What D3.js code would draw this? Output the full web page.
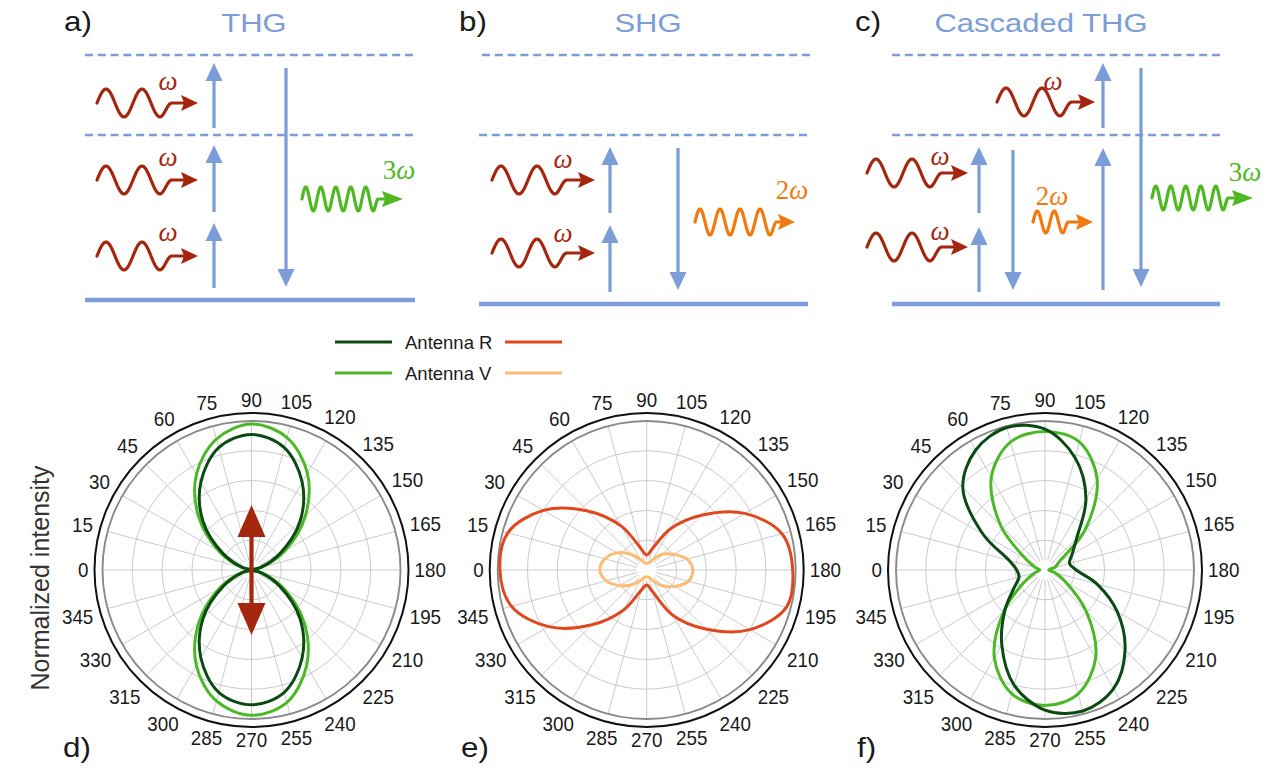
<!DOCTYPE html>
<html>
<head>
<meta charset="utf-8">
<script src="https://cdn.jsdelivr.net/npm/d3@7"></script>
<style>
  body { margin: 0; background: #fff; }
  svg { display: block; }
</style>
</head>
<body>
<svg id="fig" width="1271" height="768"></svg>
<script>
// ---- Polarisation angles (deg) and the tick labels around each polar plot ----
const angles = [0, 15, 30, 45, 60, 75, 90, 105, 120, 135, 150, 165,
                180, 195, 210, 225, 240, 255, 270, 285, 300, 315, 330, 345];
const tickLabels = ["0", "15", "30", "45", "60", "75", "90", "105", "120", "135", "150", "165",
                    "180", "195", "210", "225", "240", "255", "270", "285", "300", "315", "330", "345"];
const ringValues = [0.2, 0.4, 0.6, 0.8];

// ---- Normalized intensity vs. angle ----
// d) THG
const thgAntennaR = [0, 0.06, 0.22, 0.46, 0.68, 0.85, 0.91, 0.85, 0.68, 0.46, 0.22, 0.06,
                     0, 0.06, 0.22, 0.46, 0.68, 0.85, 0.905, 0.85, 0.68, 0.46, 0.22, 0.06];
const thgAntennaV = [0, 0.07, 0.25, 0.50, 0.74, 0.91, 0.98, 0.92, 0.75, 0.51, 0.26, 0.07,
                     0, 0.07, 0.25, 0.50, 0.74, 0.92, 0.975, 0.91, 0.74, 0.50, 0.25, 0.07];
// e) SHG
const shgAntennaR = [0.985, 0.965, 0.80, 0.56, 0.34, 0.15, 0.10, 0.15, 0.32, 0.52, 0.76, 0.94,
                     0.98, 0.97, 0.80, 0.56, 0.35, 0.15, 0.10, 0.14, 0.31, 0.52, 0.76, 0.94];
const shgAntennaV = [0.315, 0.29, 0.23, 0.15, 0.08, 0.05, 0.045, 0.05, 0.08, 0.15, 0.21, 0.28,
                     0.31, 0.29, 0.22, 0.15, 0.08, 0.05, 0.045, 0.05, 0.08, 0.14, 0.21, 0.28];
// f) cascaded THG
const cthgAntennaR = [0.19, 0.25, 0.48, 0.78, 0.93, 0.99, 0.945, 0.78, 0.55, 0.30, 0.21, 0.17,
                      0.21, 0.36, 0.56, 0.76, 0.92, 0.98, 0.94, 0.80, 0.58, 0.38, 0.24, 0.18];
const cthgAntennaV = [0.035, 0.07, 0.15, 0.42, 0.72, 0.89, 0.93, 0.89, 0.70, 0.38, 0.11, 0.07,
                      0.025, 0.07, 0.16, 0.39, 0.68, 0.86, 0.91, 0.86, 0.68, 0.39, 0.16, 0.07];

const seriesNames = ["Antenna R", "Antenna V"];
const panelTitles = ["THG", "SHG", "Cascaded THG"];
const topLetters = ["a)", "b)", "c)"];
const bottomLetters = ["d)", "e)", "f)"];

// ---- Colours ----
const C = {
  levels: "#7d9dd8",
  pump: "#a5260f",
  thg: "#4fb823",
  shg: "#f07a10",
  darkGreen: "#0c4a13",
  lightGreen: "#4cb727",
  red: "#e0471c",
  lightOrange: "#fbbd73",
  text: "#1a1a1a"
};
const SANS = "'Liberation Sans', Arial, sans-serif";
const SERIF = "'Liberation Serif', 'DejaVu Serif', serif";

const svg = d3.select("#fig");

// horizontally widened sans text
function wideText(x, y, str, size, anchor, sx, color) {
  return svg.append("text")
    .attr("transform", `translate(${x},${y}) scale(${sx},1)`)
    .attr("text-anchor", anchor)
    .attr("font-family", SANS).attr("font-size", size).attr("fill", color)
    .text(str);
}

// =====================================================================
// Energy-level diagrams (a–c)
// =====================================================================
function levelLine(x1, x2, y, dashed) {
  svg.append("line").attr("x1", x1).attr("x2", x2).attr("y1", y).attr("y2", y)
    .attr("stroke", C.levels)
    .attr("stroke-width", dashed ? 2.4 : 4.6)
    .attr("stroke-dasharray", dashed ? "8,4.8" : null);
}

function transition(x, yFrom, yTip) {
  const head = 18, hw = 8.5, dir = yTip < yFrom ? -1 : 1;
  const base = yTip - dir * head;
  svg.append("line").attr("x1", x).attr("x2", x).attr("y1", yFrom).attr("y2", base)
    .attr("stroke", C.levels).attr("stroke-width", 3.2);
  svg.append("path")
    .attr("d", `M${x},${yTip} L${x + hw},${base} L${x - hw},${base} Z`)
    .attr("fill", C.levels);
}

// wavy photon with arrowhead
function photon(o) {
  const pts = [];
  const total = o.periods - 0.25;
  const n = Math.ceil(total * 28);
  for (let k = 0; k <= n; k++) {
    const ph = total * k / n;
    pts.push([o.x0 + ph * o.period, o.y - o.amp * Math.sin(2 * Math.PI * ph)]);
  }
  const xe = o.x0 + total * o.period;
  const ease = o.period * 0.32;
  for (let k = 1; k <= 10; k++) {
    const s = k / 10;
    pts.push([xe + s * ease, o.y + o.amp * (1 - (3 * s * s - 2 * s * s * s))]);
  }
  pts.push([o.tip - o.head + 2, o.y]);
  svg.append("path")
    .attr("d", d3.line()(pts))
    .attr("fill", "none").attr("stroke", o.color)
    .attr("stroke-width", 3.2).attr("stroke-linejoin", "round").attr("stroke-linecap", "round");
  svg.append("path")
    .attr("d", `M${o.tip},${o.y} L${o.tip - o.head},${o.y - o.hw} L${o.tip - o.head + 3},${o.y} L${o.tip - o.head},${o.y + o.hw} Z`)
    .attr("fill", o.color);
}

function omegaLabel(x, yc, prefix, color) {
  const t = svg.append("text").attr("x", x).attr("y", yc + 7)
    .attr("text-anchor", "middle").attr("fill", color)
    .attr("font-family", SERIF).attr("font-size", 27);
  if (prefix) t.append("tspan").text(prefix);
  t.append("tspan").attr("font-style", "italic").text("ω");
}

function pump(x0, y, tip) {
  photon({ x0, y, tip, period: 36, periods: 2, amp: 14, head: 17, hw: 8, color: C.pump });
}

// titles and panel letters
const titleX = [254, 648, 1041];
const letterX = [64, 459, 855];
panelTitles.forEach((t, i) => {
  wideText(titleX[i], 32, t, 26.5, "middle", 1.17, C.levels);
  wideText(letterX[i], 31, topLetters[i], 28, "start", 1.12, C.text);
});

// a) THG
levelLine(85, 415, 55, true);
levelLine(85, 415, 135, true);
levelLine(85, 415, 300, false);
transition(214, 288, 223);
transition(214, 212, 145);
transition(214, 128, 63);
transition(286, 68, 287);
pump(97, 103, 198); omegaLabel(168, 83, "", C.pump);
pump(97, 180, 198); omegaLabel(168, 159, "", C.pump);
pump(97, 256, 198); omegaLabel(168, 234, "", C.pump);
photon({ x0: 302, y: 199, tip: 403, period: 15, periods: 5, amp: 12, head: 21, hw: 8, color: C.thg });
omegaLabel(399, 172, "3", C.thg);

// b) SHG
levelLine(482, 810, 55, true);
levelLine(479, 810, 135, true);
levelLine(479, 808, 304, false);
transition(610, 292, 225);
transition(610, 213, 147);
transition(678, 148, 290);
pump(492, 180, 595); omegaLabel(563, 161, "", C.pump);
pump(492, 253, 595); omegaLabel(563, 235, "", C.pump);
photon({ x0: 695, y: 222, tip: 795, period: 20, periods: 4, amp: 13, head: 17, hw: 8, color: C.shg });
omegaLabel(792, 192, "2", C.shg);

// c) cascaded THG
levelLine(892, 1220, 55, true);
levelLine(892, 1220, 135, true);
levelLine(892, 1220, 304, false);
transition(979, 292, 227);
transition(979, 213, 147);
transition(1013, 150, 290);
transition(1103, 290, 148);
transition(1103, 128, 63);
transition(1141, 68, 287);
pump(997, 102, 1095); omegaLabel(1053, 83, "", C.pump);
pump(867, 173, 968); omegaLabel(940, 158, "", C.pump);
pump(867, 247, 968); omegaLabel(940, 233, "", C.pump);
photon({ x0: 1033, y: 222, tip: 1093, period: 17, periods: 2, amp: 11, head: 17, hw: 8, color: C.shg });
omegaLabel(1052, 198, "2", C.shg);
photon({ x0: 1152, y: 198, tip: 1253, period: 15, periods: 5, amp: 12, head: 21, hw: 8, color: C.thg });
omegaLabel(1245, 174, "3", C.thg);

// =====================================================================
// Legend
// =====================================================================
const legendRows = [
  { name: seriesNames[0], left: C.darkGreen, right: C.red, y: 342 },
  { name: seriesNames[1], left: C.lightGreen, right: C.lightOrange, y: 373 }
];
legendRows.forEach(row => {
  svg.append("line").attr("x1", 335).attr("x2", 392).attr("y1", row.y).attr("y2", row.y)
    .attr("stroke", row.left).attr("stroke-width", 3);
  svg.append("line").attr("x1", 505).attr("x2", 562).attr("y1", row.y).attr("y2", row.y)
    .attr("stroke", row.right).attr("stroke-width", 3);
  svg.append("text").attr("x", 405).attr("y", row.y).attr("dy", "0.36em")
    .attr("font-family", SANS).attr("font-size", 18.5).attr("fill", C.text).text(row.name);
});

// y label
svg.append("text")
  .attr("transform", "translate(49,578) rotate(-90)")
  .attr("text-anchor", "middle")
  .attr("font-family", SANS).attr("font-size", 25).attr("fill", "#333")
  .text("Normalized intensity");

// =====================================================================
// Polar plots (d–f)
// =====================================================================
const rScale = d3.scaleLinear().domain([0, 1]).range([0, 149]);
const rad = a => a * Math.PI / 180;
// 0° to the left, 90° at the top, angle growing clockwise
const radial = d3.lineRadial()
  .angle((d, i) => rad(angles[i] - 90))
  .radius(d => rScale(d))
  .curve(d3.curveCatmullRomClosed.alpha(0.5));

function polarPanel(cx, cy, series, letter, letterX, arrow) {
  const g = svg.append("g").attr("transform", `translate(${cx},${cy})`);
  // grid
  g.selectAll("circle.ring").data(ringValues).join("circle")
    .attr("r", d => rScale(d)).attr("fill", "none")
    .attr("stroke", "#c4c4c4").attr("stroke-width", 0.9);
  g.selectAll("line.spoke").data(angles).join("line")
    .attr("x1", a => -10 * Math.cos(rad(a))).attr("y1", a => -10 * Math.sin(rad(a)))
    .attr("x2", a => -rScale(1) * Math.cos(rad(a))).attr("y2", a => -rScale(1) * Math.sin(rad(a)))
    .attr("stroke", "#c4c4c4").attr("stroke-width", 0.9);
  g.append("circle").attr("r", rScale(1)).attr("fill", "none")
    .attr("stroke", "#8a8a8a").attr("stroke-width", 1.9);
  g.append("circle").attr("r", 157).attr("fill", "none")
    .attr("stroke", "#111").attr("stroke-width", 2);

  // angle labels
  const fs = 20, sx = 0.94;
  const labelR = (lab, i) => {
    const th = rad(angles[i]);
    return 163 + Math.abs(Math.cos(th)) * lab.length * 0.556 * fs * sx / 2 + Math.abs(Math.sin(th)) * 0.716 * fs / 2;
  };
  g.selectAll("text.tick").data(tickLabels).join("text")
    .attr("transform", (lab, i) => {
      const th = rad(angles[i]), rl = labelR(lab, i);
      return `translate(${-rl * Math.cos(th)},${-rl * Math.sin(th)}) scale(${sx},1)`;
    })
    .attr("dy", "0.36em").attr("text-anchor", "middle")
    .attr("font-family", SANS).attr("font-size", fs).attr("fill", C.text)
    .text(d => d);

  // curves
  series.forEach(s => {
    g.append("path").attr("d", radial(s.values))
      .attr("fill", "none").attr("stroke", s.color).attr("stroke-width", 3)
      .attr("stroke-linejoin", "round");
  });

  if (arrow) {
    // incident polarisation
    g.append("line").attr("x1", 0).attr("x2", 0).attr("y1", -36).attr("y2", 36)
      .attr("stroke", C.pump).attr("stroke-width", 4.2);
    g.append("path").attr("d", "M0,-65 L14,-33 L-14,-33 Z").attr("fill", C.pump);
    g.append("path").attr("d", "M0,65 L14,33 L-14,33 Z").attr("fill", C.pump);
  }

  wideText(letterX, 757, letter, 28, "start", 1.12, C.text);
}

polarPanel(251.5, 570, [
  { values: thgAntennaV, color: C.lightGreen },
  { values: thgAntennaR, color: C.darkGreen }
], bottomLetters[0], 63, true);

polarPanel(646.7, 570, [
  { values: shgAntennaR, color: C.red },
  { values: shgAntennaV, color: C.lightOrange }
], bottomLetters[1], 461, false);

polarPanel(1045, 570, [
  { values: cthgAntennaV, color: C.lightGreen },
  { values: cthgAntennaR, color: C.darkGreen }
], bottomLetters[2], 857, false);
</script>
</body>
</html>
